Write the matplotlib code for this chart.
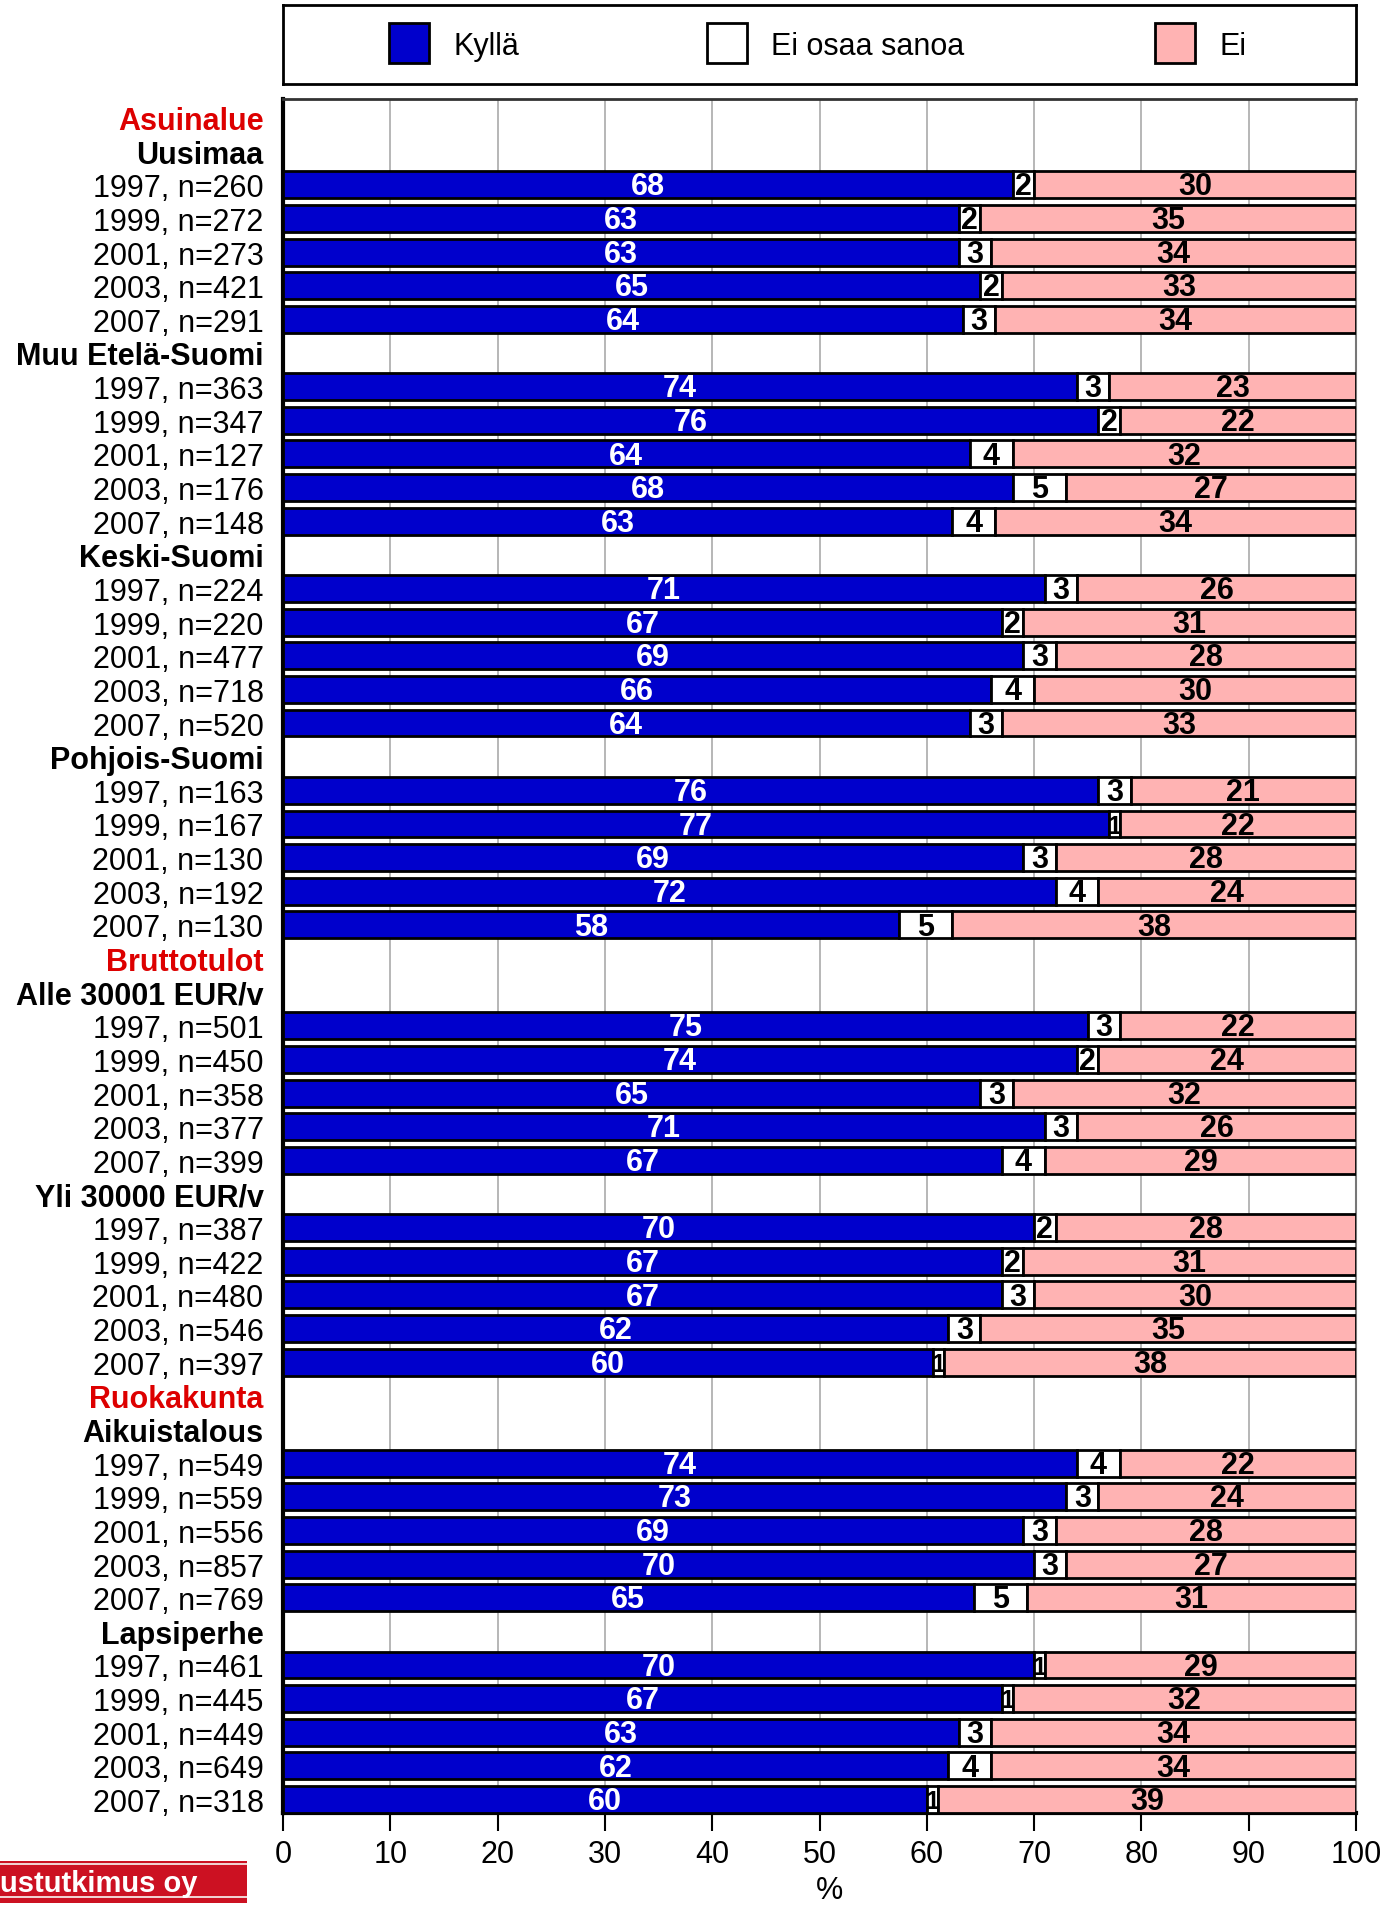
import matplotlib
matplotlib.use("Agg")
import matplotlib.pyplot as plt
from matplotlib.patches import Rectangle
import numpy as np

plt.rcParams['font.family'] = ['Liberation Sans', 'DejaVu Sans']

# ---------------- data ----------------
sections = ["Asuinalue", "Bruttotulot", "Ruokakunta"]
groups = {
    "Asuinalue": ["Uusimaa", "Muu Etelä-Suomi", "Keski-Suomi", "Pohjois-Suomi"],
    "Bruttotulot": ["Alle 30001 EUR/v", "Yli 30000 EUR/v"],
    "Ruokakunta": ["Aikuistalous", "Lapsiperhe"],
}
row_labels = {
    "Uusimaa": ["1997, n=260", "1999, n=272", "2001, n=273", "2003, n=421", "2007, n=291"],
    "Muu Etelä-Suomi": ["1997, n=363", "1999, n=347", "2001, n=127", "2003, n=176", "2007, n=148"],
    "Keski-Suomi": ["1997, n=224", "1999, n=220", "2001, n=477", "2003, n=718", "2007, n=520"],
    "Pohjois-Suomi": ["1997, n=163", "1999, n=167", "2001, n=130", "2003, n=192", "2007, n=130"],
    "Alle 30001 EUR/v": ["1997, n=501", "1999, n=450", "2001, n=358", "2003, n=377", "2007, n=399"],
    "Yli 30000 EUR/v": ["1997, n=387", "1999, n=422", "2001, n=480", "2003, n=546", "2007, n=397"],
    "Aikuistalous": ["1997, n=549", "1999, n=559", "2001, n=556", "2003, n=857", "2007, n=769"],
    "Lapsiperhe": ["1997, n=461", "1999, n=445", "2001, n=449", "2003, n=649", "2007, n=318"],
}
kylla = {
    "Uusimaa": [68, 63, 63, 65, 64],
    "Muu Etelä-Suomi": [74, 76, 64, 68, 63],
    "Keski-Suomi": [71, 67, 69, 66, 64],
    "Pohjois-Suomi": [76, 77, 69, 72, 58],
    "Alle 30001 EUR/v": [75, 74, 65, 71, 67],
    "Yli 30000 EUR/v": [70, 67, 67, 62, 60],
    "Aikuistalous": [74, 73, 69, 70, 65],
    "Lapsiperhe": [70, 67, 63, 62, 60],
}
eos = {
    "Uusimaa": [2, 2, 3, 2, 3],
    "Muu Etelä-Suomi": [3, 2, 4, 5, 4],
    "Keski-Suomi": [3, 2, 3, 4, 3],
    "Pohjois-Suomi": [3, 1, 3, 4, 5],
    "Alle 30001 EUR/v": [3, 2, 3, 3, 4],
    "Yli 30000 EUR/v": [2, 2, 3, 3, 1],
    "Aikuistalous": [4, 3, 3, 3, 5],
    "Lapsiperhe": [1, 1, 3, 4, 1],
}
ei = {
    "Uusimaa": [30, 35, 34, 33, 34],
    "Muu Etelä-Suomi": [23, 22, 32, 27, 34],
    "Keski-Suomi": [26, 31, 28, 30, 33],
    "Pohjois-Suomi": [21, 22, 28, 24, 38],
    "Alle 30001 EUR/v": [22, 24, 32, 26, 29],
    "Yli 30000 EUR/v": [28, 31, 30, 35, 38],
    "Aikuistalous": [22, 24, 28, 27, 31],
    "Lapsiperhe": [29, 32, 34, 34, 39],
}
legend_labels = ["Kyllä", "Ei osaa sanoa", "Ei"]
xticks = [0, 10, 20, 30, 40, 50, 60, 70, 80, 90, 100]

# ---------------- style ----------------
BLUE = "#0000CC"
WHITE = "#FFFFFF"
PINK = "#FFB3B3"
RED = "#DD0000"
FS = 22

W, H = 1397, 1906
fig = plt.figure(figsize=(W / 100, H / 100), dpi=100)

ax = fig.add_axes([283 / W, 1 - 1814 / H, (1356 - 283) / W, (1814 - 100) / H])

labels, colors, weights = [], [], []
bars = []  # (y, k, e, n)
y = 0
for sec in sections:
    labels.append(sec); colors.append(RED); weights.append("bold"); y += 1
    for g in groups[sec]:
        labels.append(g); colors.append("black"); weights.append("bold"); y += 1
        for lab, k, e, n in zip(row_labels[g], kylla[g], eos[g], ei[g]):
            labels.append(lab); colors.append("black"); weights.append("normal")
            bars.append((y, k, e, n))
            y += 1

nrows = len(labels)
bh = 0.80
for (yy, k, e, n) in bars:
    tot = k + e + n
    kk, ee, nn = k / tot * 100, e / tot * 100, n / tot * 100
    ax.barh(yy, kk, left=0, height=bh, color=BLUE, edgecolor="black", linewidth=2, zorder=3)
    ax.barh(yy, ee, left=kk, height=bh, color=WHITE, edgecolor="black", linewidth=2, zorder=3)
    ax.barh(yy, nn, left=kk + ee, height=bh, color=PINK, edgecolor="black", linewidth=2, zorder=3)
    ax.text(kk / 2, yy + 0.05, str(k), ha="center", va="center", color="white",
            fontsize=FS, fontweight="bold", zorder=4)
    ax.text(kk + ee / 2, yy + 0.05, str(e), ha="center", va="center", color="black",
            fontsize=FS if e > 1 else FS - 4, fontweight="bold", zorder=4)
    ax.text(kk + ee + nn / 2, yy + 0.05, str(n), ha="center", va="center", color="black",
            fontsize=FS, fontweight="bold", zorder=4)

ax.set_xlim(0, 100)
ax.set_ylim(nrows - 1 + 0.40, -0.55)
ax.set_xticks(xticks)
ax.set_xticklabels([str(t) for t in xticks], fontsize=FS)
ax.tick_params(axis="x", length=13, width=1.5, pad=6, direction="out")
ax.set_yticks(range(nrows))
ax.set_yticklabels(labels, fontsize=FS)
ax.tick_params(axis="y", length=0, pad=14)
for t, c, w in zip(ax.get_yticklabels(), colors, weights):
    t.set_color(c)
    t.set_fontweight(w)
ax.set_xlabel("%", fontsize=FS, labelpad=3)
ax.xaxis.set_label_coords(0.509, -0.036)
ax.xaxis.grid(True, color="#AAAAAA", linewidth=1.2, zorder=0)
ax.set_axisbelow(True)
for s in ["left", "bottom"]:
    ax.spines[s].set_linewidth(3)
    ax.spines[s].set_color("black")
ax.spines["top"].set_linewidth(2)
ax.spines["top"].set_color("#333333")
ax.spines["right"].set_linewidth(1.5)
ax.spines["right"].set_color("#777777")

# ---------------- legend ----------------
lax = fig.add_axes([283 / W, 1 - 85 / H, (1356 - 283) / W, (85 - 6) / H])
lax.set_xlim(283, 1356)
lax.set_ylim(85, 6)
lax.set_xticks([]); lax.set_yticks([])
for s in lax.spines.values():
    s.set_linewidth(2)
leg_x = [389, 707, 1155]
for xx, col, lab in zip(leg_x, [BLUE, WHITE, PINK], legend_labels):
    lax.add_patch(Rectangle((xx, 24), 40, 40, facecolor=col, edgecolor="black", linewidth=2))
    lax.text(xx + 64, 47, lab, ha="left", va="center", fontsize=FS)

# ---------------- logo ----------------
fig.patches.append(Rectangle((0, 2 / H), 247 / W, 42 / H, transform=fig.transFigure,
                             facecolor="#CC1122", edgecolor="none"))
for yy in (1866, 1899):
    fig.patches.append(Rectangle((0, 1 - yy / H), 247 / W, 2 / H, transform=fig.transFigure,
                                 facecolor="#F0D0D0", edgecolor="none"))
fig.text(0, 1 - 1884 / H, "ustutkimus oy", color="white", fontsize=21, fontweight="bold",
         ha="left", va="center")

fig.savefig("out.png", dpi=100)
